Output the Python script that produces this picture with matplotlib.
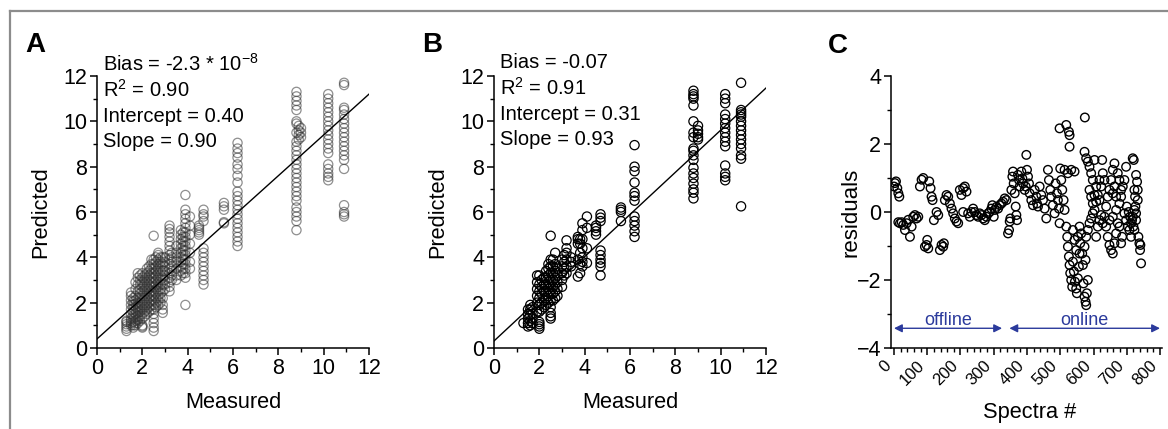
import matplotlib
matplotlib.use("Agg")
import matplotlib.pyplot as plt
from matplotlib.lines import Line2D
from matplotlib.ticker import MultipleLocator
import numpy as np

plt.rcParams['font.family'] = ['Liberation Sans', 'DejaVu Sans']
plt.rcParams['mathtext.fontset'] = 'custom'
plt.rcParams['mathtext.rm'] = 'Liberation Sans'
plt.rcParams['mathtext.it'] = 'Liberation Sans:italic'
plt.rcParams['mathtext.bf'] = 'Liberation Sans:bold'

# ---------------- Panel A data (measured level -> predicted values) ----------
meas_A = [1.3, 1.5, 1.6, 1.7, 1.8, 1.9, 2.0, 2.1, 2.2, 2.3, 2.4, 2.5, 2.6, 2.7,
          2.8, 2.9, 3.0, 3.2, 3.3, 3.5, 3.7, 3.8, 3.9, 4.1, 4.5, 4.7, 5.6, 6.2,
          8.8, 8.9, 9.0, 10.2, 10.9]
pred_A = [
    [0.75, 0.85, 0.95, 1.05, 1.15, 1.2],
    [1.0, 1.1, 1.2, 1.3, 1.5, 1.7, 1.9, 2.1, 2.3, 2.45],
    [0.9, 1.0, 1.15, 1.3, 1.45, 1.6, 1.75, 1.9, 2.05, 2.2],
    [1.0, 1.1, 1.2, 1.35, 1.5, 1.65, 1.8, 1.95, 2.1, 2.3, 2.6, 2.9],
    [1.1, 1.25, 1.4, 1.55, 1.7, 1.85, 2.0, 2.2, 2.5, 2.8, 3.1, 3.3],
    [1.2, 1.4, 1.6, 1.8, 2.0, 2.2, 2.4, 2.6, 2.8, 3.0, 3.2],
    [0.9, 0.95, 1.0, 1.3, 1.5, 1.7, 1.9, 2.1, 2.3, 2.5, 2.7, 2.9, 3.1, 3.3],
    [1.4, 1.6, 1.8, 2.0, 2.2, 2.4, 2.6, 2.8, 3.0, 3.2],
    [1.5, 1.7, 1.9, 2.1, 2.3, 2.5, 2.7, 2.9, 3.1, 3.3, 3.5],
    [1.6, 1.8, 2.0, 2.2, 2.4, 2.6, 2.8, 3.0, 3.2, 3.4, 3.6],
    [1.7, 1.9, 2.1, 2.3, 2.5, 2.7, 2.9, 3.1, 3.3, 3.5, 3.7, 3.9],
    [0.75, 0.9, 1.1, 1.3, 1.5, 1.7, 1.9, 2.1, 2.3, 2.5, 2.7, 2.9, 3.1, 3.3,
     3.5, 3.7, 3.9, 4.95],
    [1.8, 2.0, 2.2, 2.4, 2.6, 2.8, 3.0, 3.2, 3.4, 3.6, 3.8, 4.0],
    [1.9, 2.1, 2.3, 2.5, 2.7, 2.9, 3.1, 3.3, 3.5, 3.7, 3.9, 4.1, 4.2],
    [2.0, 2.2, 2.4, 2.6, 2.8, 3.0, 3.2, 3.4, 3.6, 3.8, 4.0],
    [1.55, 1.7, 1.9, 2.2, 2.5, 2.8, 3.1, 3.4, 3.7, 4.0],
    [2.6, 2.8, 3.0, 3.2, 3.4, 3.6, 3.8, 4.0],
    [2.5, 2.7, 2.9, 3.1, 3.3, 3.5, 3.7, 3.9, 4.1, 4.3, 4.5, 4.7, 4.9, 5.1,
     5.25, 5.4],
    [3.0, 3.2, 3.4, 3.6, 3.8, 4.0, 4.2],
    [3.0, 3.2, 3.5, 3.8, 4.0, 4.2, 4.5],
    [3.2, 3.4, 3.6, 3.8, 4.0, 4.2, 4.4, 4.6, 4.8, 5.0, 5.2],
    [3.3, 3.5, 3.7, 3.9, 4.1, 4.3, 4.5, 4.7, 4.9, 5.1],
    [1.9, 3.1, 3.3, 3.5, 3.7, 3.9, 4.1, 4.3, 4.5, 4.7, 4.9, 5.1, 5.3, 5.5,
     5.7, 5.9, 6.1, 6.75],
    [3.5, 3.8, 4.2, 4.6, 5.0, 5.4, 5.8],
    [5.0, 5.1, 5.2, 5.3, 5.4],
    [2.8, 3.0, 3.2, 3.4, 3.6, 3.8, 4.0, 4.2, 4.4, 5.6, 5.8, 5.9, 6.1],
    [5.5, 5.55, 6.1, 6.25, 6.4],
    [4.5, 4.7, 4.9, 5.1, 5.3, 5.5, 5.7, 5.9, 6.1, 6.3, 6.5, 6.7, 6.9, 7.3,
     7.6, 7.9, 8.1, 8.4, 8.6, 8.8, 9.05],
    [5.2, 5.6, 5.8, 6.0, 6.2, 6.5, 6.7, 6.9, 7.1, 7.3, 7.5, 7.7, 7.9, 8.1,
     8.3, 8.5, 8.7, 8.9, 9.1, 9.5, 9.9, 10.0, 10.5, 10.7, 10.9, 11.1, 11.3],
    [9.2, 9.4, 9.6, 9.8],
    [9.3, 9.5, 9.7],
    [7.4, 7.55, 7.7, 7.9, 8.1, 8.6, 8.8, 9.0, 9.2, 9.4, 9.6, 9.8, 10.0, 10.2,
     10.4, 10.6, 10.8, 11.0, 11.2],
    [5.8, 5.9, 6.0, 6.3, 7.9, 8.3, 8.5, 8.7, 8.9, 9.1, 9.3, 9.5, 9.7, 9.9,
     10.1, 10.3, 10.5, 10.6, 11.6, 11.7],
]
stats_A = ["Bias = -2.3 * 10$^{\\mathregular{-8}}$", "R$^{\\mathregular{2}}$ = 0.90",
           "Intercept = 0.40", "Slope = 0.90"]
intercept_A, slope_A = 0.40, 0.90

# ---------------- Panel B data ----------------
meas_B = [1.3, 1.5, 1.6, 1.7, 1.9, 2.0, 2.1, 2.2, 2.3, 2.4, 2.5, 2.6, 2.7, 2.8,
          3.0, 3.1, 3.2, 3.4, 3.7, 3.8, 3.9, 4.1, 4.5, 4.7, 5.6, 6.2, 8.8, 9.0,
          10.2, 10.9]
pred_B = [
    [1.1],
    [0.95, 1.1, 1.3, 1.5, 1.7],
    [1.0, 1.2, 1.45, 1.7, 1.9],
    [1.1, 1.3, 1.5, 1.8],
    [1.6, 2.0, 2.3, 2.6, 2.9, 3.2],
    [0.85, 0.95, 1.05, 1.15, 1.6, 1.9, 2.2, 2.5, 2.8, 3.2],
    [1.7, 2.0, 2.4, 2.7, 3.0],
    [1.8, 2.1, 2.5, 2.8, 3.1],
    [1.9, 2.2, 2.5, 2.8, 3.1, 3.4],
    [2.0, 2.3, 2.6, 2.9, 3.2, 3.5, 3.7],
    [1.3, 1.4, 1.55, 1.8, 2.1, 2.4, 2.7, 3.0, 3.3, 3.6, 3.9, 4.95],
    [2.1, 2.4, 2.7, 3.0, 3.3, 3.6, 3.9],
    [2.2, 2.5, 2.8, 3.1, 3.4, 3.7, 4.2],
    [2.3, 2.6, 2.9, 3.2, 3.5],
    [2.7, 3.0, 3.3, 3.6, 3.9],
    [3.2, 3.5, 3.8, 4.1],
    [3.3, 3.6, 3.9, 4.2, 4.4, 4.75],
    [3.6, 3.8, 4.0],
    [3.15, 3.9, 4.6, 4.8, 4.9],
    [3.3, 3.7, 4.2, 4.6, 4.8],
    [3.6, 3.8, 4.0, 4.4, 4.8, 5.2, 5.5],
    [3.75, 4.4, 5.3, 5.8],
    [5.0, 5.15, 5.3, 5.4],
    [3.2, 3.6, 3.75, 3.9, 4.1, 4.3, 5.6, 5.75, 5.9],
    [5.6, 6.0, 6.1, 6.2],
    [4.9, 5.15, 5.4, 5.6, 5.8, 6.5, 6.7, 6.85, 7.3, 7.8, 8.0, 8.95],
    [6.6, 6.85, 7.0, 7.25, 7.5, 7.7, 7.95, 8.3, 8.5, 8.7, 8.8, 9.3, 9.5, 10.0,
     10.7, 11.0, 11.1, 11.2, 11.35],
    [9.2, 9.3, 9.45, 9.6, 9.8],
    [7.4, 7.55, 7.7, 8.05, 8.9, 9.1, 9.3, 9.5, 9.7, 9.9, 10.1, 10.3, 10.8,
     11.0, 11.2],
    [6.25, 8.35, 8.5, 8.8, 9.0, 9.2, 9.4, 9.6, 9.8, 10.0, 10.2, 10.3, 10.4,
     10.5, 11.7],
]
stats_B = ["Bias = -0.07", "R$^{\\mathregular{2}}$ = 0.91", "Intercept = 0.31",
           "Slope = 0.93"]
intercept_B, slope_B = 0.31, 0.93

# ---------------- Panel C data ----------------
spectra_C = [
    0, 3, 6, 10, 13, 16, 13, 18, 23, 28, 33, 38, 43, 48, 53, 58, 63, 68, 73,
    78, 83, 88, 93, 98, 100, 103, 106, 110, 113, 116, 120, 128, 133, 138, 143,
    148, 150, 153, 158, 163, 168, 173, 178, 183, 188, 193, 198, 203, 208, 213,
    218, 208, 223, 228, 233, 238, 243, 248, 253, 258, 263, 268, 273, 278, 283,
    288, 293, 296, 300, 303, 308, 313, 318, 323, 328, 333, 338,
    343, 346, 348, 350, 353, 356, 358, 360, 363, 366, 368, 370,
    373, 376, 378, 383, 386, 388, 393, 396, 398, 400, 403, 406, 408, 413, 418,
    423, 428, 430, 433, 438, 443, 448, 453, 458, 463, 466, 470, 473, 478, 483,
    486, 490, 493, 496, 498, 500, 503, 506, 510, 513,
    498, 518, 526, 528, 528, 513, 523, 533, 543,
    518, 521, 523, 526, 528, 530, 533, 536, 538, 541, 544, 548, 550, 553, 556,
    558, 560, 563, 566, 568, 570, 573, 576, 578, 580, 583, 576,
    538, 543, 548, 553, 558, 574,
    573, 578, 583, 588, 593, 598, 603, 608, 613, 618,
    573, 578, 583, 588, 593, 598, 603, 608, 613,
    588, 593, 598, 603, 608, 618, 623, 628, 633, 626,
    618, 623, 628, 633, 638, 643, 648, 653, 658, 663,
    643, 648, 653, 658, 663, 668, 673, 678, 683, 686,
    638, 648, 658, 668, 678, 683, 688, 693, 698, 673, 678, 683,
    668, 663, 658,
    693, 698, 703, 708, 713, 718, 723, 726, 728, 700, 706, 710, 716, 720,
    718, 721, 723, 725, 728, 731, 733, 733, 735, 738, 740, 741, 743,
    728, 723, 713,
]
resid_C = [
    0.75, 0.85, 0.9, 0.7, 0.55, 0.45, -0.3, -0.33, -0.3, -0.38, -0.53, -0.33,
    -0.23, -0.73, -0.43, -0.14, -0.09, -0.19, -0.14,
    0.75, 0.95, 1.0, -1.02, -0.97, -0.82, -1.07, 0.9, 0.7, 0.45, 0.35, -0.24,
    0.0, -0.09, -1.12, -0.97, -1.02, -0.92, 0.35, 0.5, 0.45, 0.25, 0.1, -0.04,
    -0.19, -0.28, -0.33, 0.65, 0.5, 0.7, 0.75, 0.6, 0.0, -0.04, -0.14, 0.0,
    0.1, 0.0, -0.09, -0.14, -0.04, -0.09, -0.19, -0.24, -0.14, -0.04, 0.0,
    0.1, 0.2, -0.14, 0.06, 0.15, 0.1, 0.2, 0.25, 0.3, 0.4, 0.35,
    -0.63, -0.53, -0.28, -0.19, 0.65, 1.04, 1.19, 0.84, 0.55, 0.16, -0.09,
    -0.24,
    1.09, 0.94, 0.75, 1.19, 0.99, 0.84, 0.65, 0.75, 1.68, 1.24, 1.04, 0.84,
    0.55, 0.35, 0.2, 0.65, 0.45, 0.25, 0.16, 0.75, 0.5, 0.35, 0.1, -0.19,
    1.24, 0.94, 0.65, 0.45, 0.2, -0.04, 0.84, 0.55, 0.35, 0.1, -0.33, 1.28,
    0.94, 0.65, 0.35, 0.06,
    2.46, 2.56, 2.36, 2.26, 1.92, 1.24, 1.14, 1.24, 1.19,
    -0.43, -0.73, -1.02, -1.31, -1.56, -1.8, -2.0, -2.2, -1.46, -1.75, -2.05,
    -2.25, -2.39, -1.95, -1.61, -1.22, -0.92, -0.63, -1.22, -1.56, -2.1,
    -2.49, -2.64, -2.74, -2.39, -2.0, -1.41,
    -0.53, -0.82, -1.12, -0.73, -0.43, 2.78,
    1.77, 1.58, 1.48, 1.33, 1.14, 0.94, 1.53, 0.75, 0.5, 0.35,
    -1.02, -0.73, -0.53, -0.33, -0.19, -0.04, 0.06, -0.73, -0.43,
    0.65, 0.45, 0.25, 0.5, 0.3, 0.94, 0.75, 1.14, 0.94, 1.53,
    -0.24, -0.09, -0.33, -0.14, 0.16, 0.45, 0.65, 0.94, 1.24, 1.43,
    -0.73, -0.97, -1.12, -1.22, -0.92, -0.63, -0.33, -0.43, -0.92, -0.73,
    -0.43, -0.24, -0.14, 0.06, 0.25, 0.45, 0.75, 0.94, 1.33, 1.14, 0.94, 0.65,
    0.45, 0.75, 0.55,
    -0.04, -0.24, -0.43, -0.53, -0.33, -0.14, 0.06, 0.16, -0.04, 0.16, 0.0,
    -0.14, -0.24, -0.43,
    1.58, 1.53, 0.65, 0.45, 1.09, 0.89, 0.65, 0.35, -0.73, -0.92, -1.12,
    -0.97, -1.51,
    -0.24, -0.53, -0.73,
]
offline_range = [0, 325]
online_range = [347, 800]
arrow_level = -3.42

# ---------------- Figure ----------------
W, H = 1168, 429
fig = plt.figure(figsize=(W / 100, H / 100), dpi=100)
fig.patch.set_facecolor('white')


def fx(px):
    return px / W


def fy(py):
    return 1 - py / H


# frame lines (top and left)
fig.add_artist(Line2D([fx(10), fx(W)], [fy(11), fy(11)], color='#8c8c8c', lw=1.6))
fig.add_artist(Line2D([fx(10), fx(10)], [fy(11), fy(H)], color='#8c8c8c', lw=1.6))


def style_axes(ax, tick_fs):
    for s in ['top', 'right']:
        ax.spines[s].set_visible(False)
    for s in ['left', 'bottom']:
        ax.spines[s].set_linewidth(1.1)
    ax.tick_params(which='major', direction='out', length=5, width=1.1,
                   labelsize=tick_fs, pad=2)
    ax.tick_params(which='minor', direction='out', length=2.6, width=1.0)


def scatter_panel(left_px, meas, pred, stats, icpt, slope, alpha, ec,
                  text_base, letter, letter_px):
    ax = fig.add_axes([fx(left_px), fy(348), fx(272), (348 - 76) / H])
    xs, ys = [], []
    for m, vals in zip(meas, pred):
        xs.extend([m] * len(vals))
        ys.extend(vals)
    ax.scatter(xs, ys, s=44, facecolors='none', edgecolors=ec, linewidths=0.9,
               alpha=alpha, zorder=2)
    xl = np.array([0, 12])
    ax.plot(xl, icpt + slope * xl, color='black', lw=1.0, zorder=3)
    ax.set_xlim(0, 12)
    ax.set_ylim(0, 12)
    ax.xaxis.set_major_locator(MultipleLocator(2))
    ax.xaxis.set_minor_locator(MultipleLocator(1))
    ax.yaxis.set_major_locator(MultipleLocator(2))
    ax.yaxis.set_minor_locator(MultipleLocator(1))
    style_axes(ax, 15.5)
    for i, t in enumerate(stats):
        fig.text(fx(left_px + 6), fy(text_base[i]), t, fontsize=14.5,
                 ha='left', va='baseline')
    fig.text(fx(left_px + 136), fy(408), 'Measured', fontsize=15.7,
             ha='center', va='baseline')
    fig.text(fx(left_px - 56), fy(212), 'Predicted', fontsize=15.7,
             ha='center', va='center', rotation=90)
    fig.text(fx(letter_px[0]), fy(letter_px[1]), letter, fontsize=20,
             fontweight='bold', ha='left', va='baseline')
    return ax


scatter_panel(97, meas_A, pred_A, stats_A, intercept_A, slope_A, 0.55, '#333333',
              [71, 97, 122, 147], 'A', (25, 52))
scatter_panel(494, meas_B, pred_B, stats_B, intercept_B, slope_B, 1.0, 'black',
              [68, 95, 120, 145], 'B', (422, 52))

# Panel C
axc = fig.add_axes([fx(891), fy(348), fx(271), (348 - 76) / H])
axc.scatter(spectra_C, resid_C, s=38, facecolors='none', edgecolors='black',
            linewidths=1.0, zorder=2)
axc.set_xlim(-9, 806)
axc.set_ylim(-4, 4)
axc.xaxis.set_major_locator(MultipleLocator(100))
axc.xaxis.set_minor_locator(MultipleLocator(20))
axc.yaxis.set_major_locator(MultipleLocator(2))
axc.yaxis.set_minor_locator(MultipleLocator(1))
style_axes(axc, 15.5)
axc.tick_params(axis='x', which='major', labelsize=12, pad=2)
for lab in axc.get_xticklabels():
    lab.set_rotation(45)
    lab.set_ha('right')
    lab.set_va('top')
    lab.set_rotation_mode('default')
arrow_col = '#2b3a9c'
for rng, name in [(offline_range, 'offline'), (online_range, 'online')]:
    axc.annotate('', xy=(rng[1], arrow_level), xytext=(rng[0], arrow_level),
                 arrowprops=dict(arrowstyle='<|-|>', color=arrow_col, lw=1.0,
                                 mutation_scale=12, shrinkA=0, shrinkB=0))
    axc.text((rng[0] + rng[1]) / 2, arrow_level + 0.1, name, color=arrow_col,
             fontsize=13, ha='center', va='baseline')
fig.text(fx(1030), fy(418), 'Spectra #', fontsize=15.7, ha='center', va='baseline')
fig.text(fx(851), fy(212), 'residuals', fontsize=16, ha='center', va='center',
         rotation=90)
fig.text(fx(828), fy(53), 'C', fontsize=20, fontweight='bold', ha='left',
         va='baseline')

fig.savefig('out.png', dpi=100, facecolor='white')
